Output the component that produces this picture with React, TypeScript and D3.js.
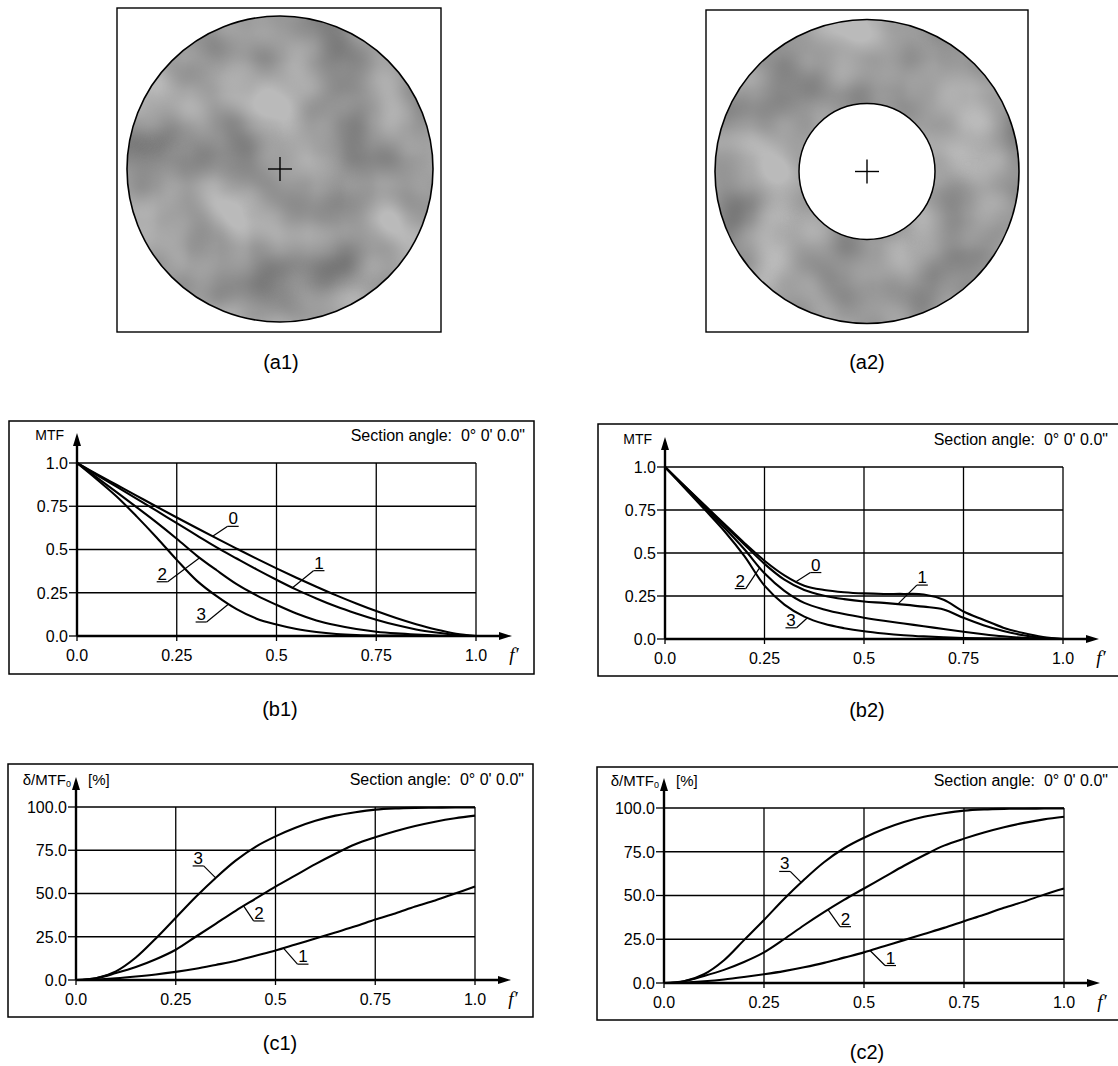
import * as d3 from "d3";
import React from "react";

const W = 1118;
const H = 1066;

// spatial frequency f' at which the curves were read
const fSteps = [0, 0.05, 0.1, 0.15, 0.2, 0.25, 0.3, 0.35, 0.4, 0.45, 0.5,
  0.55, 0.6, 0.65, 0.7, 0.75, 0.8, 0.85, 0.9, 0.95, 1.0];

// (b1) MTF, full pupil
const b1Mtf0 = [1, 0.936, 0.873, 0.81, 0.747, 0.685, 0.624, 0.564, 0.505, 0.447, 0.391, 0.337, 0.285, 0.235, 0.188, 0.144, 0.104, 0.068, 0.037, 0.013, 0];
const b1Mtf1 = [1, 0.93, 0.862, 0.793, 0.723, 0.652, 0.582, 0.512, 0.448, 0.385, 0.325, 0.268, 0.217, 0.17, 0.13, 0.094, 0.063, 0.038, 0.02, 0.006, 0];
const b1Mtf2 = [1, 0.915, 0.83, 0.743, 0.655, 0.562, 0.465, 0.38, 0.3, 0.235, 0.18, 0.13, 0.09, 0.062, 0.04, 0.025, 0.015, 0.008, 0.003, 0.001, 0];
const b1Mtf3 = [1, 0.905, 0.805, 0.69, 0.568, 0.44, 0.32, 0.23, 0.155, 0.1, 0.066, 0.04, 0.023, 0.012, 0.006, 0.003, 0.002, 0.001, 0, 0, 0];

// (b2) MTF, annular pupil
const b2Mtf0 = [1, 0.888, 0.777, 0.667, 0.557, 0.455, 0.37, 0.31, 0.285, 0.272, 0.265, 0.262, 0.262, 0.259, 0.228, 0.16, 0.112, 0.066, 0.035, 0.012, 0];
const b2Mtf1 = [1, 0.886, 0.773, 0.66, 0.548, 0.437, 0.345, 0.285, 0.252, 0.232, 0.218, 0.21, 0.2, 0.188, 0.172, 0.123, 0.08, 0.047, 0.022, 0.006, 0];
const b2Mtf2 = [1, 0.882, 0.764, 0.645, 0.52, 0.382, 0.28, 0.21, 0.172, 0.145, 0.124, 0.106, 0.09, 0.074, 0.058, 0.042, 0.028, 0.016, 0.007, 0.002, 0];
const b2Mtf3 = [1, 0.876, 0.752, 0.625, 0.48, 0.31, 0.2, 0.13, 0.088, 0.063, 0.045, 0.032, 0.022, 0.015, 0.01, 0.006, 0.004, 0.002, 0.001, 0, 0];

// (c1) relative MTF loss, %
const c1Err1 = [0, 0.3, 1, 2, 3.2, 4.7, 6.5, 8.7, 11, 14, 17, 20.5, 24, 27.5, 31, 35, 38.5, 42.5, 46, 50, 54];
const c1Err2 = [0, 1, 4, 7.5, 12, 17.5, 25, 32.5, 40, 47, 54, 60.5, 67, 73, 78.5, 82.5, 86, 89, 91.5, 93.5, 95];
const c1Err3 = [0, 1, 5, 13, 24, 36, 48, 59, 69, 77, 83, 88, 92, 95, 97, 98.5, 99.2, 99.5, 99.6, 99.7, 99.7];

// (c2) relative MTF loss, %
const c2Err1 = [0, 0.3, 1, 2, 3.4, 5, 6.8, 9, 11.5, 14.5, 17.5, 21, 24.5, 28, 31.5, 35.3, 39, 43, 46.5, 50.5, 54];
const c2Err2 = [0, 1, 4, 7.5, 12, 17.5, 25, 33, 40.5, 47.5, 54, 60.5, 67, 73, 78.5, 82.5, 86, 89, 91.5, 93.5, 95];
const c2Err3 = [0, 1, 5, 13, 24.5, 36, 48, 59, 69, 77, 83, 88, 92, 95, 97, 98.5, 99.2, 99.5, 99.6, 99.7, 99.7];

const xTicks = [0, 0.25, 0.5, 0.75, 1];
const xTickLabels = ["0.0", "0.25", "0.5", "0.75", "1.0"];
const mtfTicks = [0, 0.25, 0.5, 0.75, 1];
const mtfTickLabels = ["0.0", "0.25", "0.5", "0.75", "1.0"];
const errTicks = [0, 25, 50, 75, 100];
const errTickLabels = ["0.0", "25.0", "50.0", "75.0", "100.0"];

const sectionText = "Section angle:\u00a0\u00a00\u00b0 0' 0.0\"";

// curve call-outs: which series, where on it, offset of the leader end
const b1Labels = [
  { text: "0", s: 0, f: 0.34, dx: 15, dy: -10, side: "right" },
  { text: "1", s: 1, f: 0.54, dx: 21, dy: -17, side: "right" },
  { text: "2", s: 2, f: 0.3075, dx: -32, dy: 24, side: "left" },
  { text: "3", s: 3, f: 0.38, dx: -22, dy: 18, side: "left" },
];
const b2Labels = [
  { text: "0", s: 0, f: 0.33, dx: 14, dy: -9, side: "right" },
  { text: "1", s: 1, f: 0.585, dx: 19, dy: -19, side: "right" },
  { text: "2", s: 2, f: 0.238, dx: -14, dy: 21, side: "left" },
  { text: "3", s: 3, f: 0.358, dx: -11, dy: 10, side: "left" },
];
const c1Labels = [
  { text: "1", s: 0, f: 0.52, dx: 14, dy: 16, side: "right" },
  { text: "2", s: 1, f: 0.42, dx: 10, dy: 15, side: "right" },
  { text: "3", s: 2, f: 0.35, dx: -12, dy: -12, side: "left" },
];
const c2Labels = [
  { text: "1", s: 0, f: 0.515, dx: 15, dy: 15, side: "right" },
  { text: "2", s: 1, f: 0.41, dx: 12, dy: 17, side: "right" },
  { text: "3", s: 2, f: 0.343, dx: -11, dy: -11, side: "left" },
];

const SANS = "'Liberation Sans', Arial, Helvetica, sans-serif";
const SERIF = "'Liberation Serif', 'Times New Roman', serif";

type Box = { left: number; right: number; top: number; bottom: number };

function Pupil({ x, y, size, cx, cy, r, inner, id, caption, capX }) {
  return (
    <g>
      <defs>
        <clipPath id={id}>
          <circle cx={cx} cy={cy} r={r} />
        </clipPath>
      </defs>
      <rect x={x} y={y} width={size} height={size} fill="#fff" stroke="#000" strokeWidth={1.4} />
      <g clipPath={`url(#${id})`}>
        <rect x={cx - r} y={cy - r} width={2 * r} height={2 * r} fill="#bababa" />
        <rect x={cx - r} y={cy - r} width={2 * r} height={2 * r} filter="url(#mottle)" />
      </g>
      <circle cx={cx} cy={cy} r={r} fill="none" stroke="#000" strokeWidth={1.6} />
      {inner ? <circle cx={cx} cy={cy} r={inner} fill="#fff" stroke="#000" strokeWidth={1.5} /> : null}
      <line x1={cx - 12} x2={cx + 12} y1={cy} y2={cy} stroke="#000" strokeWidth={1.4} />
      <line x1={cx} x2={cx} y1={cy - 12} y2={cy + 12} stroke="#000" strokeWidth={1.4} />
      <text x={capX} y={362} fontSize={20} textAnchor="middle" dominantBaseline="central" fontFamily={SANS}>{caption}</text>
    </g>
  );
}

function Chart({ frame, plot, yMax, yTicks, yTickLabels, series, labels, kind, secRight, caption, capX, capY }:
  { frame: { x: number; y: number; w: number; h: number }; plot: Box; yMax: number; yTicks: number[];
    yTickLabels: string[]; series: number[][]; labels: any[]; kind: string; secRight: number;
    caption: string; capX: number; capY: number }) {
  const x = d3.scaleLinear().domain([0, 1]).range([plot.left, plot.right]);
  const y = d3.scaleLinear().domain([0, yMax]).range([plot.bottom, plot.top]);
  const line = d3.line<number>()
    .x((_, i) => x(fSteps[i]))
    .y((v) => y(v))
    .curve(d3.curveCatmullRom.alpha(0.5));
  const xTip = plot.right + 36;
  const yTip = plot.top - 30;

  return (
    <g fontFamily={SANS}>
      <rect x={frame.x} y={frame.y} width={frame.w} height={frame.h} fill="#fff" stroke="#000" strokeWidth={1.5} />

      {/* grid */}
      {xTicks.slice(1).map((t) => (
        <line key={"gx" + t} x1={x(t)} x2={x(t)} y1={plot.top} y2={plot.bottom} stroke="#000" strokeWidth={1.3} />
      ))}
      {yTicks.slice(1).map((t) => (
        <line key={"gy" + t} x1={plot.left} x2={plot.right} y1={y(t)} y2={y(t)} stroke="#000" strokeWidth={1.3} />
      ))}

      {/* axes with arrows */}
      <line x1={plot.left} x2={xTip - 8} y1={plot.bottom} y2={plot.bottom} stroke="#000" strokeWidth={2.4} />
      <path d={`M${xTip},${plot.bottom} L${xTip - 13},${plot.bottom - 4} L${xTip - 13},${plot.bottom + 4} Z`} fill="#000" />
      <line x1={plot.left} x2={plot.left} y1={plot.bottom} y2={yTip + 8} stroke="#000" strokeWidth={2.4} />
      <path d={`M${plot.left},${yTip} L${plot.left - 4},${yTip + 13} L${plot.left + 4},${yTip + 13} Z`} fill="#000" />

      {/* ticks */}
      {yTicks.map((t, i) => (
        <g key={"ty" + t}>
          <line x1={plot.left - 8} x2={plot.left} y1={y(t)} y2={y(t)} stroke="#000" strokeWidth={1.3} />
          <text x={plot.left - 9} y={y(t)} dy="0.36em" fontSize={16} textAnchor="end">{yTickLabels[i]}</text>
        </g>
      ))}
      {xTicks.map((t, i) => (
        <g key={"tx" + t}>
          <line x1={x(t)} x2={x(t)} y1={plot.bottom} y2={plot.bottom + 5} stroke="#000" strokeWidth={1.3} />
          <text x={x(t)} y={plot.bottom + 25} fontSize={16} textAnchor="middle">{xTickLabels[i]}</text>
        </g>
      ))}
      <text x={xTip + 2} y={plot.bottom + 25} fontSize={19} fontStyle="italic" fontFamily={SERIF} textAnchor="middle">f{"\u2032"}</text>

      {/* axis title */}
      {kind === "mtf" ? (
        <text x={plot.left - 13} y={plot.top - 23} fontSize={14} textAnchor="end">MTF</text>
      ) : (
        <g>
          <text x={plot.left - 5} y={plot.top - 22} fontSize={15} textAnchor="end">
            δ/MTF<tspan fontSize={9} dy={2}>0</tspan>
          </text>
          <text x={plot.left + 12} y={plot.top - 22} fontSize={15}>[%]</text>
        </g>
      )}
      <text x={secRight} y={plot.top - 22} fontSize={16} textAnchor="end">
        {sectionText}
      </text>

      {/* curves */}
      {series.map((s, i) => (
        <path key={"c" + i} d={line(s) || ""} fill="none" stroke="#000" strokeWidth={2.1} />
      ))}

      {/* call-outs */}
      {labels.map((l) => {
        const at = d3.scaleLinear().domain(fSteps).range(series[l.s]);
        const ax = x(l.f);
        const ay = y(at(l.f));
        const ex = ax + l.dx;
        const ey = ay + l.dy;
        const u0 = l.side === "right" ? ex : ex - 11;
        return (
          <g key={"l" + l.text}>
            <line x1={ax} y1={ay} x2={ex} y2={ey} stroke="#000" strokeWidth={1.2} />
            <line x1={u0} x2={u0 + 11} y1={ey} y2={ey} stroke="#000" strokeWidth={1.2} />
            <text x={u0 + 5.5} y={ey - 2} fontSize={17} textAnchor="middle">{l.text}</text>
          </g>
        );
      })}

      <text x={capX} y={capY} fontSize={20} textAnchor="middle" dominantBaseline="central">{caption}</text>
    </g>
  );
}

export default function App() {
  return (
    <svg width={W} height={H} viewBox={`0 0 ${W} ${H}`} style={{ position: "absolute", left: 0, top: 0, background: "#fff" }}>
      <defs>
        <filter id="mottle" x="0" y="0" width="100%" height="100%">
          <feTurbulence type="fractalNoise" baseFrequency="0.016" numOctaves={2} seed={5} />
          <feColorMatrix type="matrix" values="0 0 0 0 0  0 0 0 0 0  0 0 0 0 0  0.6 0 0 0 -0.14" />
        </filter>
      </defs>
      <rect width={W} height={H} fill="#fff" />

      <Pupil x={117} y={8} size={324} cx={280} cy={169} r={153} inner={0} id="pupilA1" caption="(a1)" capX={281} />
      <Pupil x={706} y={10} size={322} cx={867} cy={171.5} r={152} inner={68} id="pupilA2" caption="(a2)" capX={867} />

      <Chart frame={{ x: 9, y: 421, w: 525, h: 253 }} plot={{ left: 77, right: 476, top: 463, bottom: 636 }}
        yMax={1} yTicks={mtfTicks} yTickLabels={mtfTickLabels} series={[b1Mtf0, b1Mtf1, b1Mtf2, b1Mtf3]}
        labels={b1Labels} kind="mtf" secRight={525} caption="(b1)" capX={280} capY={709} />
      <Chart frame={{ x: 598, y: 424, w: 530, h: 252 }} plot={{ left: 665, right: 1063, top: 467, bottom: 639 }}
        yMax={1} yTicks={mtfTicks} yTickLabels={mtfTickLabels} series={[b2Mtf0, b2Mtf1, b2Mtf2, b2Mtf3]}
        labels={b2Labels} kind="mtf" secRight={1108} caption="(b2)" capX={867} capY={710} />
      <Chart frame={{ x: 8, y: 764, w: 525, h: 253 }} plot={{ left: 76, right: 475, top: 807, bottom: 980 }}
        yMax={100} yTicks={errTicks} yTickLabels={errTickLabels} series={[c1Err1, c1Err2, c1Err3]}
        labels={c1Labels} kind="err" secRight={524} caption="(c1)" capX={280} capY={1043} />
      <Chart frame={{ x: 597, y: 767, w: 530, h: 253 }} plot={{ left: 664, right: 1064, top: 808, bottom: 983 }}
        yMax={100} yTicks={errTicks} yTickLabels={errTickLabels} series={[c2Err1, c2Err2, c2Err3]}
        labels={c2Labels} kind="err" secRight={1108} caption="(c2)" capX={867} capY={1052} />
    </svg>
  );
}
